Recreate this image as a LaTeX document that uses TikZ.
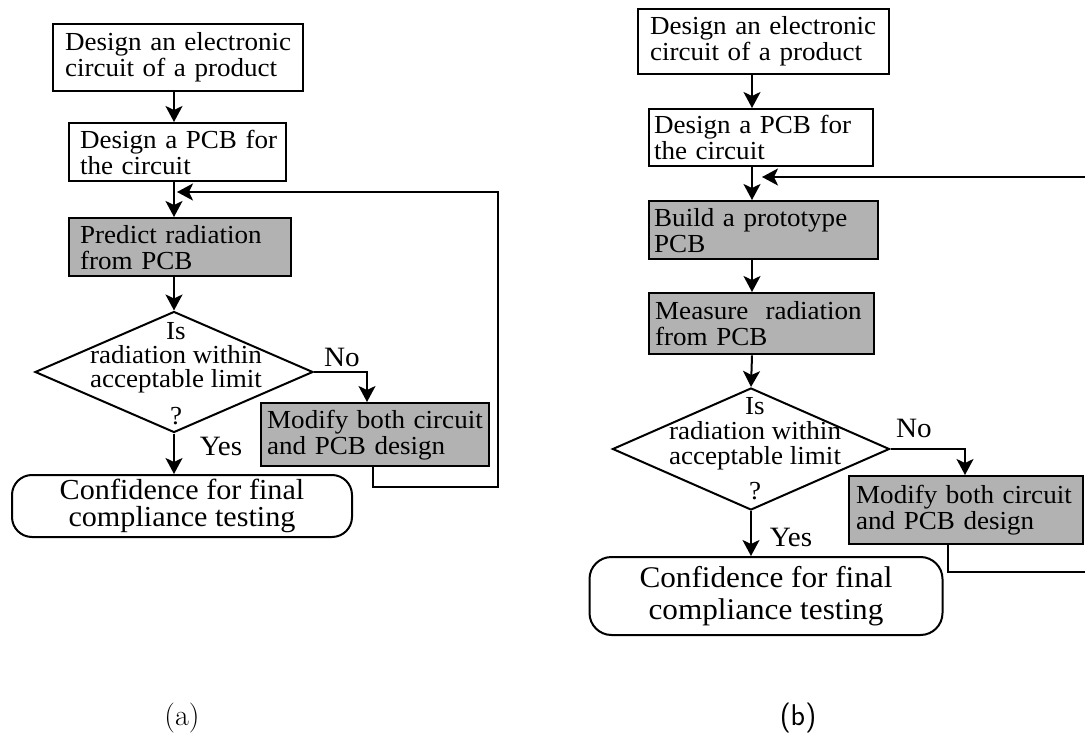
\documentclass[tikz,border=0pt]{standalone}
\usepackage{fontspec}
\newfontfamily\figfont[FakeStretch=1.04]{Liberation Serif}
\usetikzlibrary{shapes.geometric,arrows.meta,calc}

\begin{document}
\begin{tikzpicture}[x=1pt,y=-1pt,
  box/.style={draw, line width=2pt, anchor=north west, inner ysep=0pt, align=left,
    font=\figfont\fontsize{26}{26}\selectfont},
  shaded/.style={box, fill=black!30, line width=2.4pt},
  decision/.style={draw, diamond, line width=2pt, inner sep=0pt},
  dtext/.style={align=center, inner sep=0pt},
  goal/.style={draw, rounded corners=20pt, line width=2pt, align=center, inner sep=0pt},
  flow/.style={line width=2pt, -{Stealth[length=16pt,width=17pt,inset=4pt]}},
  link/.style={line width=2pt},
  lbl/.style={font=\figfont\fontsize{28}{28}\selectfont, inner sep=0pt},
  caption/.style={inner sep=0pt}]

\useasboundingbox[fill=white] (0,0) rectangle (1085,733);

% ---------------- flow (a): radiation predicted at design stage
\node[box, minimum width=250pt, minimum height=67pt, text width=226pt, inner xsep=12pt]
  (a1) at (52,23) {\mbox{Design an electronic}\\\mbox{circuit of a product}};
\node[box, minimum width=217pt, minimum height=58pt, text width=195pt, inner xsep=11pt]
  (a2) at (68,122) {\mbox{Design a PCB for}\\the circuit};
\node[shaded, minimum width=222pt, minimum height=58pt, text width=200pt, inner xsep=11pt]
  (a3) at (68,217) {\mbox{Predict radiation}\\from PCB};
\node[decision, minimum width=278pt, minimum height=121pt] (ad) at (174,372) {};
\node[dtext, font=\figfont\fontsize{26}{24}\selectfont] (adt) at (176,374)
  {Is\\radiation within\\acceptable limit\\[13pt]?};
\node[shaded, minimum width=228pt, minimum height=63pt, text width=216pt, inner xsep=6pt]
  (a5) at (260,402) {\mbox{Modify both circuit}\\\mbox{and PCB design}};
\node[goal, minimum width=340pt, minimum height=62pt, font=\figfont\fontsize{29}{27}\selectfont]
  (ag) at (182,506) {Confidence for final\\compliance testing};

\node[lbl] (ano) at (342,357) {No};
\node[lbl] (ayes) at (221,446) {Yes};

\coordinate (acol) at (174,0);
\coordinate (anox) at (367,0);
\coordinate (afb) at (373,0);
\coordinate (ac1) at (498,487);
\coordinate (ac2) at (498,192);
\coordinate (atip) at (177,192);

\draw[flow] (a1.south -| acol) -- (a2.north -| acol);
\draw[flow] (a2.south -| acol) -- (a3.north -| acol);
\draw[flow] (a3.south -| acol) -- (ad.north);
\draw[flow] (ad.south) -- (ag.north -| ad.south);
\draw[flow] (ad.east) -| (a5.north -| anox);
\draw[flow] (a5.south -| afb) |- (ac1) -- (ac2) -- (atip);

% ---------------- flow (b): radiation measured on a prototype
\node[box, minimum width=251pt, minimum height=65pt, text width=227pt, inner xsep=12pt]
  (b1) at (637,8) {\mbox{Design an electronic}\\\mbox{circuit of a product}};
\node[box, minimum width=224pt, minimum height=57pt, text width=214pt, inner xsep=5pt]
  (b2) at (648,108) {\mbox{Design a PCB for}\\the circuit};
\node[shaded, minimum width=229pt, minimum height=58pt, text width=219pt, inner xsep=5pt]
  (b3) at (648,200) {\mbox{Build a prototype}\\PCB};
\node[shaded, minimum width=225pt, minimum height=61pt, text width=213pt, inner xsep=6pt]
  (b4) at (648,292) {\mbox{Measure\ \ radiation}\\from PCB};
\node[decision, minimum width=277pt, minimum height=122pt] (bd) at (751,449) {};
\node[dtext, font=\figfont\fontsize{26}{25}\selectfont] (bdt) at (755,449)
  {Is\\radiation within\\acceptable limit\\[10pt]?};
\node[shaded, minimum width=234pt, minimum height=68pt, text width=220pt, inner xsep=7pt]
  (b5) at (848,475) {\mbox{Modify both circuit}\\\mbox{and PCB design}};
\node[goal, rounded corners=22pt, minimum width=353pt, minimum height=78pt,
  font=\figfont\fontsize{30}{32}\selectfont]
  (bg) at (766,596) {Confidence for final\\compliance testing};

\node[lbl] (bno) at (914,428) {No};
\node[lbl] (byes) at (791,537) {Yes};

\coordinate (bcol) at (752,0);
\coordinate (bnox) at (965,0);
\coordinate (bfb) at (948,0);
\coordinate (bedge1) at (1086,572);
\coordinate (bedge2) at (1086,177);
\coordinate (btip) at (762,177);

\draw[flow] (b1.south -| bcol) -- (b2.north -| bcol);
\draw[flow] (b2.south -| bcol) -- (b3.north -| bcol);
\draw[flow] (b3.south -| bcol) -- (b4.north -| bcol);
\draw[flow] (b4.south -| bcol) -- (bd.north);
\draw[flow] (bd.south) -- (bg.north -| bd.south);
\draw[flow] (bd.east) -| (b5.north -| bnox);
\draw[link] (b5.south -| bfb) |- (bedge1);
\draw[flow] (bedge2) -- (btip);

% ---------------- captions
\node[caption, font=\fontsize{30}{30}\selectfont\rmfamily] (capa) at (182,718) {(a)};
\node[caption, font=\fontsize{30}{30}\selectfont\sffamily] (capb) at (798,718) {(b)};
\end{tikzpicture}
\end{document}
